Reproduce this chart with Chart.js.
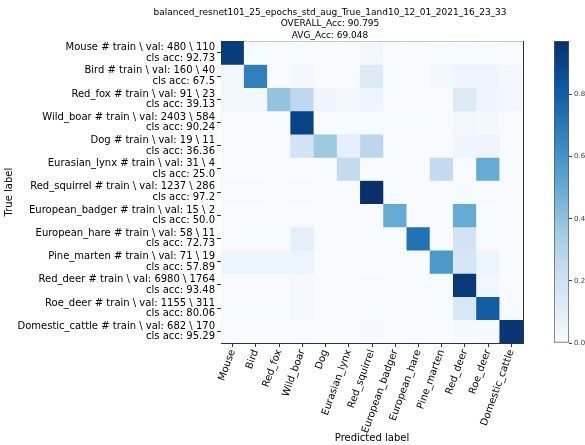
<!DOCTYPE html>
<html>
<head>
<meta charset="utf-8">
<script src="https://cdn.jsdelivr.net/npm/chart.js@4.4.1/dist/chart.umd.min.js"></script>
<style>
  body { margin: 0; background: #fff; overflow: hidden; }
  #wrap { position: relative; width: 585px; height: 445px; overflow: hidden; background: #fff; }
  #matrix { position: absolute; left: 0; top: 0; }
  #colorbar { position: absolute; left: 530px; top: 0; }
</style>
</head>
<body>
<div id="wrap">
  <canvas id="matrix" width="660" height="445"></canvas>
  <canvas id="colorbar" width="55" height="445"></canvas>
</div>
<script>
const classes = ["Mouse", "Bird", "Red_fox", "Wild_boar", "Dog", "Eurasian_lynx", "Red_squirrel",
  "European_badger", "European_hare", "Pine_marten", "Red_deer", "Roe_deer", "Domestic_cattle"];
const trainCounts = [480, 160, 91, 2403, 19, 31, 1237, 15, 58, 71, 6980, 1155, 682];
const valCounts = [110, 40, 23, 584, 11, 4, 286, 2, 11, 19, 1764, 311, 170];
const clsAcc = ["92.73", "67.5", "39.13", "90.24", "36.36", "25.0", "97.2", "50.0", "72.73", "57.89", "93.48", "80.06", "95.29"];
const titleLines = ["balanced_resnet101_25_epochs_std_aug_True_1and10_12_01_2021_16_23_33",
  "OVERALL_Acc: 90.795", "AVG_Acc: 69.048"];
const colorbarTicks = [0, 0.2, 0.4, 0.6, 0.8];

// normalized confusion matrix, rows = true label, cols = predicted label
const cmMouse    = [0.927, 0.009, 0, 0.009, 0, 0, 0.027, 0, 0, 0.009, 0.009, 0.01, 0];
const cmBird     = [0.025, 0.675, 0, 0.025, 0, 0, 0.125, 0, 0, 0.025, 0.05, 0.05, 0.025];
const cmRedFox   = [0.02, 0.02, 0.391, 0.261, 0.043, 0.02, 0.043, 0, 0, 0, 0.13, 0.043, 0.03];
const cmWildBoar = [0.005, 0.005, 0.01, 0.902, 0.005, 0.003, 0.01, 0.003, 0.003, 0.002, 0.03, 0.02, 0.002];
const cmDog      = [0, 0, 0, 0.182, 0.364, 0.091, 0.273, 0, 0, 0, 0.045, 0.045, 0];
const cmLynx     = [0, 0, 0, 0, 0, 0.25, 0, 0, 0, 0.25, 0, 0.5, 0];
const cmSquirrel = [0.004, 0.004, 0, 0.004, 0, 0, 0.972, 0, 0, 0, 0.01, 0.006, 0];
const cmBadger   = [0, 0, 0, 0, 0, 0, 0, 0.5, 0, 0, 0.5, 0, 0];
const cmHare     = [0, 0, 0, 0.091, 0, 0, 0, 0, 0.727, 0, 0.182, 0, 0];
const cmMarten   = [0.053, 0.053, 0.053, 0.053, 0, 0, 0, 0, 0, 0.579, 0.158, 0.053, 0];
const cmRedDeer  = [0.002, 0.001, 0.001, 0.015, 0.001, 0, 0.005, 0, 0.002, 0.003, 0.935, 0.033, 0.002];
const cmRoeDeer  = [0.003, 0.003, 0.003, 0.016, 0, 0, 0.01, 0, 0, 0.003, 0.154, 0.801, 0.007];
const cmCattle   = [0.006, 0, 0, 0.006, 0, 0, 0.012, 0, 0.006, 0, 0.012, 0.006, 0.953];
const matrix = [cmMouse, cmBird, cmRedFox, cmWildBoar, cmDog, cmLynx, cmSquirrel,
  cmBadger, cmHare, cmMarten, cmRedDeer, cmRoeDeer, cmCattle];

const vmax = Math.max(...matrix.flat());

// matplotlib "Blues"
const blues = [
  [0.0, [247, 251, 255]], [0.125, [222, 235, 247]], [0.25, [198, 219, 239]],
  [0.375, [158, 202, 225]], [0.5, [107, 174, 214]], [0.625, [66, 146, 198]],
  [0.75, [33, 113, 181]], [0.875, [8, 81, 156]], [1.0, [8, 48, 107]]
];

function bluesColor(t) {
  t = Math.max(0, Math.min(1, t));
  for (let k = 1; k < blues.length; k++) {
    if (t <= blues[k][0]) {
      const [t0, c0] = blues[k - 1];
      const [t1, c1] = blues[k];
      const f = (t - t0) / (t1 - t0);
      const c = c0.map((v, i) => Math.round(v + (c1[i] - v) * f));
      return `rgb(${c[0]},${c[1]},${c[2]})`;
    }
  }
  return "rgb(8,48,107)";
}

Chart.defaults.font.family = "'DejaVu Sans', sans-serif";
Chart.defaults.color = "#000";

const yLabels = classes.map((c, i) => [
  `${c} # train \\ val: ${trainCounts[i]} \\ ${valCounts[i]}`,
  `cls acc: ${clsAcc[i]}`
]);

// one stacked dataset per true-label row; each cell coloured by its value
const datasets = matrix.map((row, i) => ({
  label: classes[i],
  data: row.map(() => 1),
  values: row,
  backgroundColor: row.map(v => bluesColor(v / vmax)),
  borderWidth: 0,
  barPercentage: 1,
  categoryPercentage: 1
}));

new Chart(document.getElementById("matrix"), {
  type: "bar",
  data: { labels: classes, datasets: datasets },
  options: {
    responsive: false,
    animation: false,
    devicePixelRatio: 1,
    layout: { padding: { top: 7, left: 0, right: 0, bottom: 0 } },
    plugins: {
      legend: { display: false },
      title: {
        display: true,
        text: titleLines,
        font: { size: 9, weight: "normal", lineHeight: 1.27 },
        color: "#000",
        padding: { top: 0, bottom: 0 }
      },
      tooltip: {
        callbacks: {
          label: c => `${c.dataset.label}: ${c.dataset.values[c.dataIndex]}`
        }
      }
    },
    scales: {
      x: {
        type: "category",
        stacked: true,
        offset: true,
        grid: { display: true, drawOnChartArea: false, offset: false, tickLength: 4, color: "#333" },
        border: { display: true, color: "#333" },
        ticks: { autoSkip: false, minRotation: 70, maxRotation: 70, padding: 1, color: "#000", font: { size: 10 } },
        title: { display: true, text: "Predicted label", font: { size: 10 }, padding: { top: 0, bottom: 1 } },
        afterFit: s => { s.height = 102; }
      },
      top: {
        type: "category",
        axis: "x",
        position: "top",
        grid: { display: false },
        ticks: { display: false },
        border: { display: true, color: "#333" },
        afterFit: s => { s.height = 0; }
      },
      y: {
        type: "linear",
        stacked: true,
        reverse: true,
        min: 0,
        max: classes.length,
        afterBuildTicks: s => { s.ticks = classes.map((c, i) => ({ value: i + 0.5 })); },
        ticks: {
          callback: (v, i) => yLabels[i],
          color: "#000",
          padding: 2,
          font: { size: 10, lineHeight: 1.05 }
        },
        grid: { display: true, drawOnChartArea: false, tickLength: 4, color: "#333" },
        border: { display: true, color: "#333" },
        title: { display: true, text: "True label", font: { size: 10 }, padding: { top: 3, bottom: 0 } },
        afterFit: s => { s.width = 221; }
      },
      right: {
        type: "linear",
        axis: "y",
        position: "right",
        grid: { display: false },
        ticks: { display: false },
        border: { display: true, color: "#333" },
        afterFit: s => { s.width = 137; }
      }
    }
  }
});

new Chart(document.getElementById("colorbar"), {
  type: "bar",
  data: {
    labels: [""],
    datasets: [{
      data: [vmax],
      backgroundColor: ctx => {
        const area = ctx.chart.chartArea;
        if (!area) return null;
        const g = ctx.chart.ctx.createLinearGradient(0, area.bottom, 0, area.top);
        blues.forEach(([t, c]) => g.addColorStop(t, `rgb(${c[0]},${c[1]},${c[2]})`));
        return g;
      },
      borderColor: "#555",
      borderWidth: 1,
      borderSkipped: false,
      barPercentage: 1,
      categoryPercentage: 1
    }]
  },
  options: {
    responsive: false,
    animation: false,
    devicePixelRatio: 1,
    layout: { padding: { top: 41, left: 24, right: 0, bottom: 102 } },
    plugins: { legend: { display: false }, tooltip: { enabled: false } },
    scales: {
      x: { display: false },
      y: {
        position: "right",
        min: 0,
        max: vmax,
        afterBuildTicks: s => { s.ticks = colorbarTicks.map(v => ({ value: v })); },
        ticks: { callback: v => v.toFixed(1), color: "#444", padding: 2, font: { size: 7 } },
        grid: { display: true, drawOnChartArea: false, tickLength: 3, color: "#444" },
        border: { display: false },
        afterFit: s => { s.width = 16; }
      }
    }
  }
});
</script>
</body>
</html>
